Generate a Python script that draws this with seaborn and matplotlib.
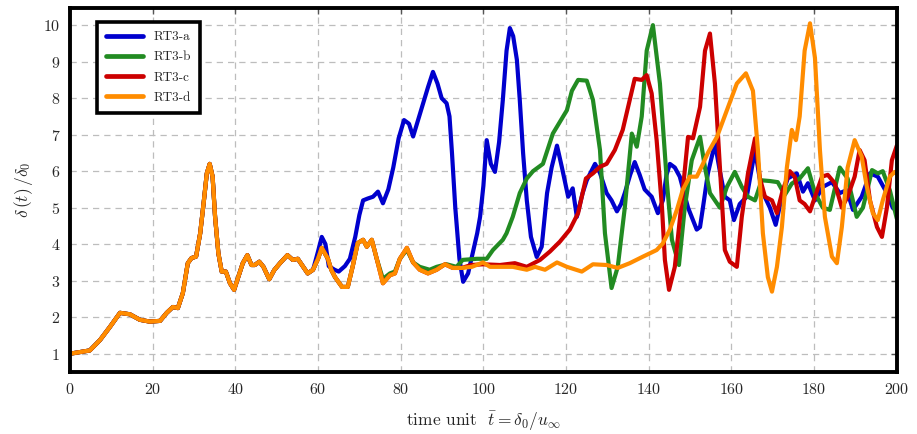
import numpy as np
import pandas as pd
import matplotlib
matplotlib.use("Agg")
import matplotlib.pyplot as plt
import seaborn as sns

# shared start of all four runs
t_shared = [0, 4.8, 7.3, 9.7, 12.1, 14.5, 16.9, 19.3, 21.8, 23.4, 24.9, 26.1, 27.3, 28.5, 29.4,
            30.5, 31.5, 32.4, 33.1, 33.8, 34.5, 35.1, 35.9, 36.7, 37.7, 38.7, 39.7, 40.7, 41.8,
            42.9, 43.9, 44.7, 45.8, 46.8, 48.2, 49.4, 50.8, 52.6, 53.9, 55.1, 57.5, 58.8]
d_shared = [1.0, 1.09, 1.38, 1.74, 2.12, 2.08, 1.93, 1.88, 1.9, 2.12, 2.28, 2.25, 2.66, 3.48, 3.62,
            3.66, 4.3, 5.2, 5.94, 6.2, 5.85, 4.75, 3.75, 3.25, 3.25, 2.93, 2.75, 3.1, 3.48,
            3.7, 3.43, 3.43, 3.52, 3.38, 3.04, 3.29, 3.48, 3.7, 3.57, 3.6, 3.2, 3.3]

# RT3-b/c/d stay together until ~74
t_low = [60, 60.9, 62.4, 63.2, 64.1, 65.8, 67.2, 68.4, 69.6, 70.9, 71.8, 73, 74.2]
d_low = [3.6, 3.9, 3.6, 3.3, 3.1, 2.83, 2.83, 3.4, 4.03, 4.12, 3.93, 4.12, 3.6]

t_a = [60, 60.9, 61.8, 62.6, 64, 65, 66.5, 67.7, 69, 70, 70.9, 72, 73.3, 74.5, 75.7, 77, 78.2,
       79.5, 80.8, 82, 83, 84.2, 85.4, 86.6, 87.8, 88.9, 89.9, 91.1, 91.8, 92.4, 93.2, 94.2,
       95.1, 96.3, 97.5, 98.5, 99.2, 100, 100.8, 101.8, 102.8, 103.8, 104.7, 105.6, 106.4,
       107.2, 108.1, 108.8, 109.6, 110.5, 111.5, 112.9, 114.1, 115.4, 116.5, 117.8, 119,
       120.5, 121.6, 122.6, 124, 125, 127, 128.2, 129.8, 131, 132.3, 133.3, 134.2, 135.5,
       136.6, 137.8, 139, 140.7, 142.2, 143.4, 144.3, 145.1, 146.3, 147.5, 149.5, 151.6,
       152.4, 153.1, 154.3, 156, 157.2, 158.4, 159.6, 160.6, 162, 163.7, 165.7, 167.3, 169.3,
       170.7, 172.2, 173.6, 175.8, 177.3, 178.5, 180.2, 182.1, 184.3, 186.2, 187.9, 189.4,
       191.5, 193.5, 195.4, 197.6, 199, 200]
d_a = [3.8, 4.2, 4.0, 3.4, 3.3, 3.25, 3.4, 3.6, 4.2, 4.8, 5.2, 5.25, 5.3, 5.44, 5.12, 5.5, 6.1,
       6.9, 7.4, 7.3, 6.95, 7.4, 7.85, 8.3, 8.72, 8.4, 8.0, 7.86, 7.5, 6.5, 5.0, 3.6,
       2.97, 3.2, 3.8, 4.3, 4.75, 5.6, 6.85, 6.2, 5.98, 6.8, 7.95, 9.3, 9.92,
       9.7, 9.05, 7.95, 6.5, 5.2, 4.2, 3.65, 3.93, 5.4, 6.1, 6.7, 6.1,
       5.3, 5.53, 4.75, 5.4, 5.75, 6.2, 5.95, 5.4, 5.2, 4.9, 5.1, 5.4, 5.9,
       6.25, 5.9, 5.5, 5.3, 4.85, 5.2, 5.9, 6.2, 6.1, 5.85, 5.0, 4.4,
       4.47, 5.0, 5.94, 6.76, 6.0, 5.3, 5.2, 4.66, 5.1, 5.3, 6.58, 5.48, 5.0,
       4.53, 5.3, 5.8, 5.94, 5.44, 5.67, 5.2, 5.57, 5.7, 5.4, 5.48, 4.94,
       5.3, 5.94, 5.85, 5.4, 5.0, 4.9]

t_b = [75.7, 77.4, 78.6, 79.8, 81.5, 83, 84.6, 87, 88.7, 91.1, 93.5, 95, 98.4, 100.8, 102.3,
       104.7, 105.6, 107.1, 108.8, 110.5, 112, 114.4, 116.8, 120.2, 121.4, 122.9, 125, 126.5,
       128.2, 129.4, 131, 132.5, 134.2, 135.9, 137.1, 138.3, 139.5, 141, 142.7, 144.4, 145.6,
       147.3, 148.7, 150.4, 152.4, 153.6, 154.8, 157.2, 158.9, 160.8, 162.5, 164, 165.7,
       167.3, 169.3, 171.2, 172.9, 174.6, 176.5, 178.5, 180.2, 182.1, 183.8, 186.2, 188.1,
       190.3, 191.8, 194, 195.4, 196.6, 198.3, 200]
d_b = [3.05, 3.2, 3.25, 3.6, 3.85, 3.5, 3.38, 3.3, 3.38, 3.45, 3.38, 3.57, 3.6, 3.6, 3.84,
       4.12, 4.3, 4.75, 5.4, 5.8, 6.0, 6.2, 7.03, 7.67, 8.2, 8.5, 8.48, 7.95,
       6.58, 4.3, 2.8, 3.38, 5.0, 7.03, 6.67, 7.5, 9.3, 10.0, 8.4, 5.67, 4.12,
       3.43, 5.0, 6.3, 6.94, 6.1, 5.4, 5.0, 5.57, 5.98, 5.57, 5.3, 5.2,
       5.75, 5.73, 5.7, 5.35, 5.66, 5.8, 6.08, 5.4, 5.0, 4.94, 6.1, 5.8,
       4.75, 5.0, 6.03, 5.94, 6.0, 5.48, 4.7]

t_c = [97, 100, 104, 107.6, 110.5, 113.7, 116.1, 118.5, 120.9, 122.9, 124.8, 126.5, 128.2,
       129.8, 131.8, 133.7, 135.4, 136.6, 138.3, 139.5, 140.7, 141.9, 143.2, 143.9, 144.9,
       146.3, 148, 149.5, 150.7, 152.4, 153.6, 154.8, 156, 157.2, 158.4, 159.6, 161.3, 162.5,
       164, 165.7, 166.9, 168.1, 169.8, 171, 172.4, 174.1, 175.3, 176.5, 177.7, 179, 180.2,
       181.9, 183.3, 185, 186.7, 188.1, 189.8, 191, 192.2, 193.5, 195.2, 196.4, 197.6, 198.8,
       200]
d_c = [3.43, 3.45, 3.43, 3.48, 3.38, 3.57, 3.8, 4.07, 4.4, 4.85, 5.8, 5.94, 6.12,
       6.2, 6.58, 7.13, 7.95, 8.53, 8.5, 8.63, 8.13, 6.85, 5.0, 3.57, 2.75,
       3.38, 5.2, 6.94, 6.9, 7.76, 9.3, 9.77, 8.4, 6.1, 3.84, 3.52, 3.38, 4.75,
       5.94, 6.9, 5.8, 5.3, 5.2, 4.85, 5.48, 6.0, 5.85, 5.2, 5.1, 4.9, 5.3,
       5.85, 5.9, 5.67, 5.0, 5.3, 5.85, 6.58, 6.3, 5.2, 4.47, 4.2, 5.0, 6.3,
       6.7]

t_d = [75.7, 77.4, 78.6, 79.8, 81.5, 83, 84.6, 86.6, 88.7, 90.7, 92.6, 94.8, 97.2, 99.9, 101.6,
       104, 107.1, 110.5, 112.5, 114.9, 117.8, 120.2, 123.8, 126.5, 129.8, 132.5, 135.4, 138.6,
       141.9, 143.4, 145.1, 146.8, 148.2, 149.9, 151.6, 153.1, 154.3, 156.5, 158.9, 161.3,
       163.5, 165.2, 166.4, 167.6, 168.8, 169.8, 171, 172.2, 173.4, 174.6, 175.6, 176.5, 177.7,
       179, 180.2, 181.4, 182.6, 184.3, 185.5, 186.7, 188.1, 189.8, 191.5, 192.7, 194.2, 195.4,
       196.6, 198.3, 199.5, 200]
d_d = [2.93, 3.15, 3.2, 3.6, 3.9, 3.5, 3.3, 3.2, 3.3, 3.45, 3.35, 3.35, 3.38, 3.5, 3.38,
       3.38, 3.38, 3.3, 3.38, 3.3, 3.5, 3.38, 3.25, 3.45, 3.43, 3.35, 3.48, 3.66,
       3.84, 4.02, 4.4, 4.94, 5.48, 5.85, 5.85, 6.2, 6.5, 6.94, 7.67, 8.4,
       8.68, 8.2, 6.58, 4.3, 3.1, 2.7, 3.38, 4.47, 6.1, 7.13, 6.85, 7.5, 9.3,
       10.05, 9.1, 6.58, 4.75, 3.66, 3.48, 4.47, 6.1, 6.85, 6.4, 5.6, 4.85, 4.66,
       5.2, 5.85, 5.98, 5.95]

runs = ["RT3-a", "RT3-b", "RT3-c", "RT3-d"]
colors = ["#0000cd", "#228b22", "#cc0000", "#ff8c00"]

# red follows orange until it breaks away near t=96
t_c_full = [t for t in t_d if t < 96] + t_c
d_c_full = [d for t, d in zip(t_d, d_d) if t < 96] + d_c

series = {
    "RT3-a": (t_shared + t_a, d_shared + d_a),
    "RT3-b": (t_shared + t_low + t_b, d_shared + d_low + d_b),
    "RT3-c": (t_shared + t_low + t_c_full, d_shared + d_low + d_c_full),
    "RT3-d": (t_shared + t_low + t_d, d_shared + d_low + d_d),
}
frames = []
for name in runs:
    tt, dd = series[name]
    frames.append(pd.DataFrame({"t": tt, "delta": dd, "run": name}))
df = pd.concat(frames, ignore_index=True)

sns.set_style("white")
plt.rcParams["font.family"] = "serif"
plt.rcParams["font.serif"] = ["cmr10", "DejaVu Serif"]
plt.rcParams["mathtext.fontset"] = "cm"
plt.rcParams["axes.formatter.use_mathtext"] = True

fig = plt.figure(figsize=(9.17, 4.34), dpi=100)
ax = fig.add_axes([0.0763, 0.1429, 0.9017, 0.8387])

sns.lineplot(data=df, x="t", y="delta", hue="run", hue_order=runs, palette=colors,
             sort=False, estimator=None, linewidth=3.0, ax=ax)

ax.set_xlim(0, 200)
ax.set_ylim(0.5, 10.47)
ax.set_xticks(np.arange(0, 201, 20))
ax.set_yticks(np.arange(1, 11, 1))
ax.grid(True, linestyle=(0, (5, 4)), color="#bdbdbd", linewidth=0.9)
ax.tick_params(direction="in", top=True, right=True, length=4, width=1.0,
               color="#555555", labelsize=11.5, pad=7)
for s in ax.spines.values():
    s.set_linewidth(2.8)
    s.set_color("black")

ax.set_xlabel(r"time unit  $\bar{t} = \delta_0/u_\infty$", fontsize=12.5, labelpad=9)
ax.set_ylabel(r"$\delta\,(t)\,/\delta_0$", fontsize=12.5, labelpad=6)

leg = ax.legend(loc="upper left", bbox_to_anchor=(0.033, 0.962), borderaxespad=0,
                fontsize=9.5, handlelength=2.8, frameon=True, fancybox=False,
                borderpad=0.7, labelspacing=0.6, handletextpad=0.75, framealpha=1)
leg.get_frame().set_edgecolor("black")
leg.get_frame().set_linewidth(2.6)
for ln in leg.get_lines():
    ln.set_linewidth(3.4)

fig.savefig("out.png", dpi=100)
